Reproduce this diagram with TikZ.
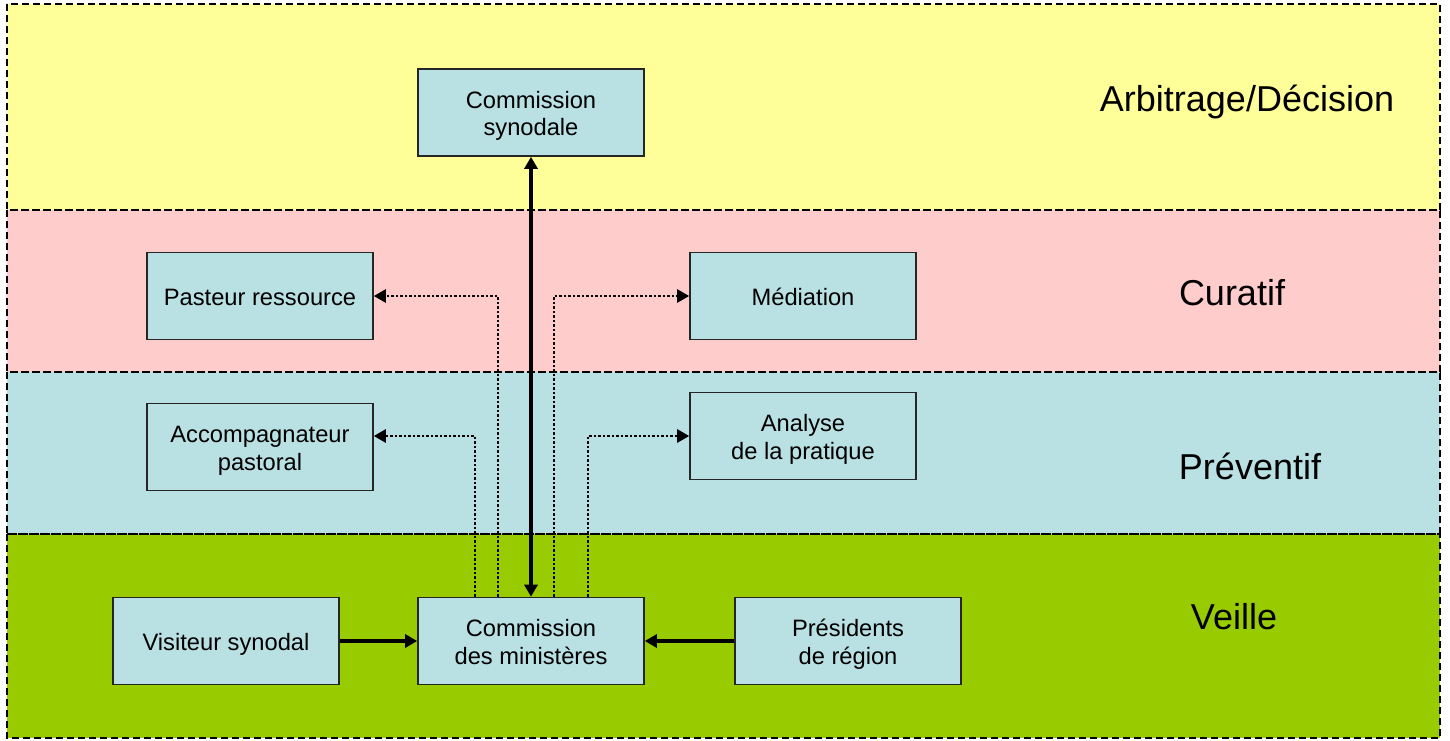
\documentclass[tikz,border=0pt]{standalone}
\usepackage{fontspec}
\setmainfont{Liberation Sans}
\usetikzlibrary{arrows.meta}
\definecolor{bandY}{HTML}{FFFF99}
\definecolor{bandR}{HTML}{FFCCCC}
\definecolor{bandB}{HTML}{B9E0E3}
\definecolor{bandG}{HTML}{99CC00}
\definecolor{boxfill}{HTML}{B9E0E3}
\newcommand\bxtop{\rule{0pt}{24pt}}
\newcommand\bxbot{\rule[-5pt]{0pt}{0pt}}
\tikzset{
  band/.style={draw=black, line width=2pt, dash pattern=on 7pt off 4pt},
  box/.style={draw=black!85, line width=1.6pt, fill=boxfill, minimum width=226pt, minimum height=87pt,
     align=center, inner sep=2pt, font=\fontsize{23.7pt}{27.3pt}\selectfont},
  lab/.style={font=\fontsize{36pt}{40pt}\selectfont, inner sep=0pt},
  solidarrow/.style={line width=3.6pt, -{Triangle[length=12pt,width=13pt]}},
  dblarrow/.style={line width=3.6pt, {Triangle[length=12pt,width=13pt]}-{Triangle[length=12pt,width=13pt]}},
  dotarrow/.style={line width=2.6pt, dash pattern=on 2.5pt off 2pt, -{Triangle[length=12pt,width=13pt]}},
}
\begin{document}
\begin{tikzpicture}[x=1pt,y=-1pt]
\useasboundingbox (0,0) rectangle (1450,740);
% bands
\fill[bandY] (7,4) rectangle (1440,210);
\fill[bandR] (7,210) rectangle (1440,372);
\fill[bandB] (7,372) rectangle (1440,534);
\fill[bandG] (7,534) rectangle (1440,738);
\draw[band] (7,4) rectangle (1440,210);
\draw[band] (7,210) rectangle (1440,372);
\draw[band] (7,372) rectangle (1440,534);
\draw[band] (7,534) rectangle (1440,738);
% labels
\node[lab] (l1) at (1247,102) {Arbitrage/Décision};
\node[lab] (l2) at (1232,293) {Curatif};
\node[lab] (l3) at (1250,466) {Préventif};
\node[lab] (l4) at (1234,617) {Veille};
% boxes
\node[box] (cs) at (531,112.5) {\bxtop Commission\\synodale\bxbot};
\node[box] (pr) at (260,296) {\bxtop Pasteur ressource\bxbot};
\node[box] (me) at (803,296) {\bxtop Médiation\bxbot};
\node[box] (ap) at (260,447) {\bxtop Accompagnateur\\pastoral\bxbot};
\node[box] (an) at (803,436) {\bxtop Analyse\\de la pratique\bxbot};
\node[box] (vs) at (226,641) {\bxtop Visiteur synodal\bxbot};
\node[box] (cm) at (531,641) {\bxtop Commission\\des ministères\bxbot};
\node[box] (ps) at (848,641) {\bxtop Présidents\\de région\bxbot};
% connectors
\draw[dotarrow] ([xshift=-33pt]cm.north) |- (pr.east);
\draw[dotarrow] ([xshift=-56pt]cm.north) |- ([yshift=11pt]ap.east);
\draw[dotarrow] ([xshift=23pt]cm.north) |- (me.west);
\draw[dotarrow] ([xshift=57pt]cm.north) |- (an.west);
\draw[dblarrow] (cs.south) -- (cm.north);
\draw[solidarrow] (vs.east) -- (cm.west);
\draw[solidarrow] (ps.west) -- (cm.east);
\end{tikzpicture}
\end{document}
